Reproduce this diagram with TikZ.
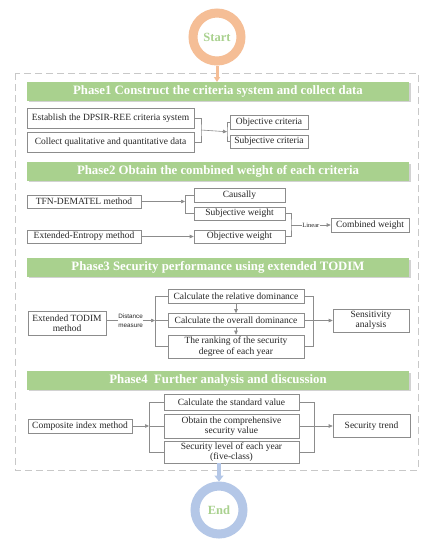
\documentclass[tikz,border=0pt]{standalone}
\usepackage{fontspec}
\setmainfont{Liberation Serif}
\newfontfamily\labsans{Liberation Sans}
\usetikzlibrary{arrows.meta}
\definecolor{phgreen}{HTML}{A9D18E}
\definecolor{peach}{HTML}{F5BE96}
\definecolor{lblue}{HTML}{B4C7E7}
\definecolor{bordgray}{HTML}{8C8C8C}
\definecolor{txtgray}{HTML}{262626}
\definecolor{dashgray}{HTML}{C8C8C8}
\tikzset{
  box/.style={draw=bordgray, line width=0.6pt, fill=white, inner sep=1pt, align=center,
    text=txtgray, font=\fontsize{9.5}{10.5}\selectfont},
  phase/.style={fill=phgreen, minimum width=382pt, minimum height=19pt, inner sep=0pt,
    text=white, font=\fontsize{12.8}{13}\selectfont\bfseries},
  conn/.style={draw=bordgray, line width=0.6pt},
  arr/.style={conn, -{Triangle[length=4pt,width=3.5pt]}},
  lab/.style={fill=white, inner sep=0.5pt, text=txtgray, align=center},
  ring/.style={circle, line width=9pt, minimum size=48pt, inner sep=0pt,
    text=phgreen, font=\fontsize{12.5}{13}\selectfont\bfseries}
}
\begin{document}
\begin{tikzpicture}[x=1pt,y=-1pt]
\useasboundingbox (0,0) rectangle (434,550);
\fill[white] (0,0) rectangle (434,550);
% outer dashed frame
\draw[dashgray, line width=0.8pt, dash pattern=on 7pt off 4pt] (15,73) rectangle (418,470);
% start / end
\node[ring, draw=peach] (start) at (217,37) {Start};
\node[ring, draw=lblue] (end) at (219,510) {End};
% phase bars with light shadow
\foreach \yy in {91,171.5,267.5,380.5}{
  \fill[gray!35] (28.5,\yy-8) rectangle (410.5,\yy+10.5);
}
\node[phase] (p1) at (218,91) {Phase1 Construct the criteria system and collect data};
\node[phase] (p2) at (218,171.5) {Phase2 Obtain the combined weight of each criteria};
\node[phase] (p3) at (218,267.5) {Phase3 Security performance using extended TODIM};
\node[phase] (p4) at (218,380.5) {Phase4\ \ Further analysis and discussion};
\draw[peach, line width=3pt, -{Triangle[length=5pt,width=6pt]}] (start.south) -- (217,82);
% Phase 1
\node[box, minimum width=167pt, minimum height=20pt] (est) at (110.5,118) {Establish the DPSIR-REE criteria system};
\node[box, minimum width=167pt, minimum height=20pt] (col) at (110.5,142) {Collect qualitative and quantitative data};
\node[box, minimum width=78pt, minimum height=14pt] (obj) at (269,122) {Objective criteria};
\node[box, minimum width=78pt, minimum height=13pt] (sub) at (269,141.5) {Subjective criteria};
\coordinate (j1) at (201,130);
\coordinate (k1) at (227,131.75);
\draw[conn] (est.east) -| (j1) |- (col.east);
\draw[arr] (j1) -- (k1);
\draw[conn] (obj.west) -| (k1) |- (sub.west);
% Phase 2
\node[box, minimum width=114pt, minimum height=13pt] (tfn) at (84,201.5) {TFN-DEMATEL method};
\node[box, minimum width=114pt, minimum height=13pt] (ent) at (84,236.5) {Extended-Entropy method};
\node[box, minimum width=91pt, minimum height=14pt] (cau) at (239.5,195) {Causally};
\node[box, minimum width=91pt, minimum height=13pt] (sw) at (239.5,213.5) {Subjective weight};
\node[box, minimum width=91pt, minimum height=13pt] (ow) at (239.5,236.5) {Objective weight};
\node[box, minimum width=78pt, minimum height=14pt] (comb) at (370,225) {Combined weight};
\coordinate (k2) at (185,201.5);
\draw[arr] (tfn.east) -- (k2);
\draw[conn] (cau.west) -| (185,213.5) -- (sw.west);
\draw[arr] (ent.east) -- (ow.west);
\coordinate (j2) at (291,225);
\draw[conn] (sw.east) -| (j2) |- (ow.east);
\draw[arr] (j2) -- node[lab, font=\fontsize{6.5}{7}\selectfont] {Linear} (comb.west);
% Phase 3
\node[box, minimum width=78pt, minimum height=24pt] (todim) at (67,323) {Extended TODIM\\method};
\node[box, minimum width=136pt, minimum height=14pt] (rel) at (236,296) {Calculate the relative dominance};
\node[box, minimum width=136pt, minimum height=14pt] (ovr) at (236,320.5) {Calculate the overall dominance};
\node[box, minimum width=136pt, minimum height=23pt] (rank) at (236,346.5) {The ranking of the security\\degree of each year};
\node[box, minimum width=76pt, minimum height=23pt] (sens) at (371,320.5) {Sensitivity\\analysis};
\coordinate (k3) at (155,320.5);
\draw[arr] (todim.east |- k3) -- node[lab, font=\labsans\fontsize{6.3}{9}\selectfont] {Distance\\measure} (k3);
\draw[conn] (rel.west) -| (155,346.5) -- (rank.west);
\draw[conn] (k3) -- (ovr.west);
\draw[conn] (rel.east) -| (313,346.5) -- (rank.east);
\draw[arr] (ovr.east) -- (sens.west);
\draw[arr] (rel.south) -- (ovr.north);
\draw[arr] (ovr.south) -- (rank.north);
% Phase 4
\node[box, minimum width=104pt, minimum height=14pt] (comp) at (80,426) {Composite index method};
\node[box, minimum width=135pt, minimum height=16pt] (std) at (231.5,402) {Calculate the standard value};
\node[box, minimum width=135pt, minimum height=24pt] (obt) at (231.5,426) {Obtain the comprehensive\\security value};
\node[box, minimum width=135pt, minimum height=22pt] (sec) at (231.5,452) {Security level of each year\\(five-class)};
\node[box, minimum width=77pt, minimum height=23pt] (trend) at (371.5,426) {Security trend};
\coordinate (k4) at (149,426);
\draw[arr] (comp.east) -- (k4);
\draw[conn] (std.west) -| (149,452) -- (sec.west);
\draw[conn] (k4) -- (obt.west);
\draw[conn] (std.east) -| (314,452) -- (sec.east);
\draw[arr] (obt.east) -- (trend.west);
\coordinate (e4) at (219,463);
\draw[lblue, line width=4.5pt, -{Triangle[length=6pt,width=9pt]}] (e4) -- (end.north);
\end{tikzpicture}
\end{document}
